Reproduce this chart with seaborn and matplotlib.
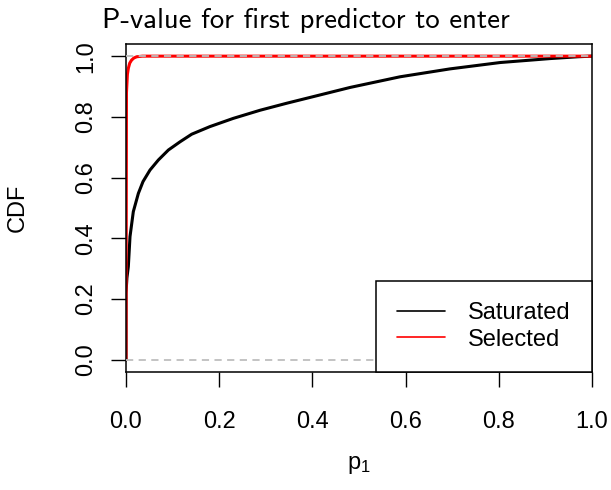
import numpy as np
import pandas as pd
import matplotlib
matplotlib.use("Agg")
import matplotlib.pyplot as plt
import seaborn as sns
from matplotlib.lines import Line2D

# ECDF of p-values
sat_p = [0.0, 0.0, 0.002, 0.005, 0.0086, 0.0157, 0.0265, 0.0365, 0.0515, 0.0694,
         0.091, 0.116, 0.141, 0.18, 0.23, 0.288, 0.345, 0.4, 0.481, 0.588,
         0.695, 0.803, 0.91, 0.97, 1.0]
sat_cdf = [0.0, 0.22, 0.27, 0.307, 0.406, 0.488, 0.548, 0.587, 0.625, 0.658,
           0.691, 0.718, 0.743, 0.768, 0.795, 0.822, 0.845, 0.866, 0.897, 0.932,
           0.958, 0.979, 0.992, 0.998, 1.0]
sel_p = [0.0, 0.001, 0.003, 0.005, 0.008, 0.012, 0.017, 0.023, 0.035, 1.0]
sel_cdf = [0.0, 0.88, 0.94, 0.96, 0.977, 0.987, 0.994, 0.998, 1.0, 1.0]
series_names = ["Saturated", "Selected"]
series_colors = ["black", "red"]
x_ticks = [0.0, 0.2, 0.4, 0.6, 0.8, 1.0]
y_ticks = [0.0, 0.2, 0.4, 0.6, 0.8, 1.0]
title_text = "P-value for first predictor to enter"

sns.set_theme(style="white")
plt.rcParams['font.family'] = ['Liberation Sans', 'DejaVu Sans']
plt.rcParams['text.color'] = 'black'
plt.rcParams['axes.labelcolor'] = 'black'
plt.rcParams['xtick.color'] = 'black'
plt.rcParams['ytick.color'] = 'black'

FS = 17

fig = plt.figure(figsize=(6.11, 4.90), dpi=100)
ax = fig.add_axes([126/611, 1-372/490, (592-126)/611, (372-44)/490])

df_sat = pd.DataFrame({"p": sat_p, "cdf": sat_cdf})
df_sel = pd.DataFrame({"p": sel_p, "cdf": sel_cdf})

sns.lineplot(data=df_sat, x="p", y="cdf", sort=False, estimator=None,
             color=series_colors[0], lw=2.2, ax=ax, zorder=2)
sns.lineplot(data=df_sel, x="p", y="cdf", sort=False, estimator=None,
             color=series_colors[1], lw=2.2, ax=ax, zorder=2)
for y in (0.0, 1.0):
    ax.axhline(y, color="#bebebe", lw=1.3, ls=(0, (4, 3)), zorder=3)

ax.set_xlim(0, 1)
ax.set_ylim(-0.04, 1.04)
ax.set_xticks(x_ticks)
ax.set_yticks(y_ticks)
ax.set_xticklabels([f"{v:.1f}" for v in x_ticks], fontsize=FS)
ax.set_yticklabels([f"{v:.1f}" for v in y_ticks], fontsize=FS, rotation=90, va="center")
ax.tick_params(axis="both", direction="out", length=11, width=1.0, color="black",
               bottom=True, left=True, labelcolor="black")
ax.tick_params(axis="x", pad=17)
ax.tick_params(axis="y", pad=10)
for s in ax.spines.values():
    s.set_visible(True)
    s.set_color("black")
    s.set_linewidth(1.1)

ax.set_xlabel("")
ax.set_ylabel("")
fig.text(359/611, 1-465/490, r"$\mathregular{p_1}$", fontsize=FS, ha="center", va="center")
fig.text(18/611, 1-208/490, "CDF", fontsize=FS, ha="center", va="center", rotation=90)

t = fig.text(102/611, 1-28/490, title_text, fontsize=18, ha="left", va="baseline",
             family=["cmss10", "DejaVu Sans"])
fig.canvas.draw()
w = t.get_window_extent().width
t.set_fontsize(18 * 409.0 / w)

handles = [Line2D([0], [0], color=c, lw=1.2) for c in series_colors]
leg = ax.legend(handles, series_names, loc="lower right", bbox_to_anchor=(1, 0),
                borderaxespad=0, frameon=True, fancybox=False, fontsize=FS,
                handlelength=2.0, handletextpad=1.0, borderpad=0.9, labelspacing=0.2)
leg.get_frame().set_edgecolor("black")
leg.get_frame().set_linewidth(1.1)
leg.get_frame().set_alpha(1)

fig.savefig("out.png", dpi=100, facecolor="white")
